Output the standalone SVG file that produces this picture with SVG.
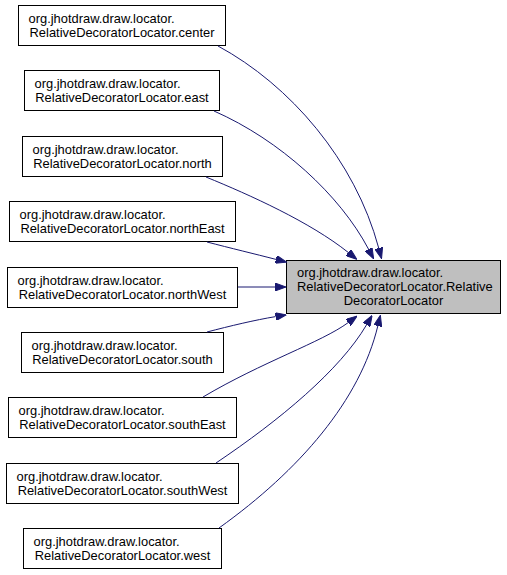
<svg xmlns="http://www.w3.org/2000/svg" width="507" height="575" viewBox="0 0 507 575">
<style>
.n rect{fill:#ffffff;stroke:#000000;stroke-width:1}
.m rect{fill:#bfbfbf;stroke:#000000;stroke-width:1}
text{font-family:"Liberation Sans",Arial,sans-serif;font-size:12.9px;fill:#000000}
.c{text-anchor:middle}
.e path{fill:none;stroke:#191970;stroke-width:1;marker-end:url(#ah)}
</style>
<defs>
<marker id="ah" viewBox="0 0 11 8" refX="0" refY="4" markerWidth="11" markerHeight="8" markerUnits="userSpaceOnUse" orient="auto">
<path d="M0,0 L11,4 L0,8 Z" fill="#191970" stroke="#191970" stroke-width="1"/>
</marker>
</defs>
<rect width="507" height="575" fill="#ffffff"/>
<g id="main" class="m">
<rect x="286.5" y="260.5" width="214" height="53"/>
<text x="297" y="277">org.jhotdraw.draw.locator.</text>
<text x="297" y="291">RelativeDecoratorLocator.Relative</text>
<text class="c" x="393.5" y="305">DecoratorLocator</text>
</g>
<g id="center" class="n">
<rect x="18.5" y="5.5" width="207" height="40"/>
<text x="28.5" y="23">org.jhotdraw.draw.locator.</text>
<text class="c" x="122" y="37">RelativeDecoratorLocator.center</text>
</g>
<g id="east" class="n">
<rect x="24.5" y="70.5" width="195" height="40"/>
<text x="34.5" y="88">org.jhotdraw.draw.locator.</text>
<text class="c" x="122" y="102">RelativeDecoratorLocator.east</text>
</g>
<g id="north" class="n">
<rect x="22.5" y="136.5" width="200" height="40"/>
<text x="32.5" y="154">org.jhotdraw.draw.locator.</text>
<text class="c" x="122.5" y="168">RelativeDecoratorLocator.north</text>
</g>
<g id="northEast" class="n">
<rect x="9.5" y="201.5" width="226" height="40"/>
<text x="19.5" y="219">org.jhotdraw.draw.locator.</text>
<text class="c" x="122.5" y="233">RelativeDecoratorLocator.northEast</text>
</g>
<g id="northWest" class="n">
<rect x="7.5" y="267.5" width="230" height="40"/>
<text x="17.5" y="285">org.jhotdraw.draw.locator.</text>
<text class="c" x="122.5" y="299">RelativeDecoratorLocator.northWest</text>
</g>
<g id="south" class="n">
<rect x="21.5" y="332.5" width="202" height="40"/>
<text x="31.5" y="350">org.jhotdraw.draw.locator.</text>
<text class="c" x="122.5" y="364">RelativeDecoratorLocator.south</text>
</g>
<g id="southEast" class="n">
<rect x="8.5" y="397.5" width="228" height="40"/>
<text x="18.5" y="415">org.jhotdraw.draw.locator.</text>
<text class="c" x="122.5" y="429">RelativeDecoratorLocator.southEast</text>
</g>
<g id="southWest" class="n">
<rect x="6.5" y="463.5" width="232" height="40"/>
<text x="16.5" y="481">org.jhotdraw.draw.locator.</text>
<text class="c" x="122.5" y="495">RelativeDecoratorLocator.southWest</text>
</g>
<g id="west" class="n">
<rect x="23.5" y="528.5" width="198" height="40"/>
<text x="33.5" y="546">org.jhotdraw.draw.locator.</text>
<text class="c" x="122.5" y="560">RelativeDecoratorLocator.west</text>
</g>
<g id="connectors" class="e">
<path d="M218,46 C290,85 355,160 378.7,248"/>
<path d="M214,111 C280,140 340,195 368.5,249.1"/>
<path d="M206,177 C250,195 310,222 348.2,252.4"/>
<path d="M207,242 C230,248 255,254 276,259.4"/>
<path d="M238,287 L275,287"/>
<path d="M207,332 C230,326 255,320 275.6,316.6"/>
<path d="M203,397 C262,362 322,342 348.2,322.6"/>
<path d="M216,463 C280,420 340,370 366.5,324.9"/>
<path d="M219,528 C300,470 360,400 377.8,326"/>
</g>
</svg>
